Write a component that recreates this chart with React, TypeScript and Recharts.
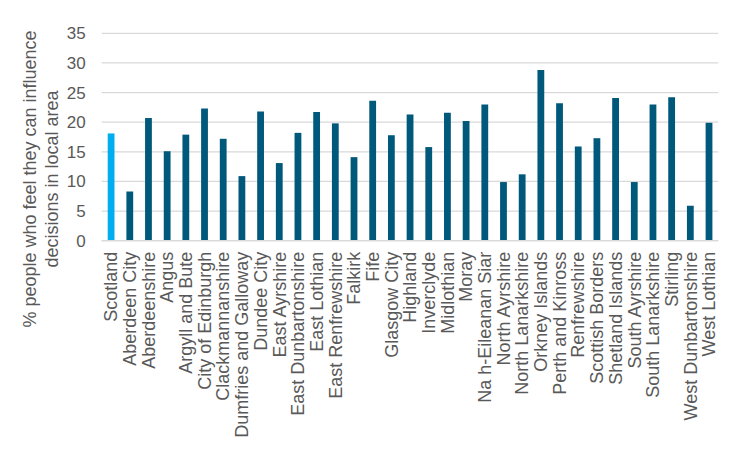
import React from "react";
import { BarChart, Bar, XAxis, YAxis, CartesianGrid, Cell } from "recharts";

const categories = [
  "Scotland", "Aberdeen City", "Aberdeenshire", "Angus", "Argyll and Bute",
  "City of Edinburgh", "Clackmannanshire", "Dumfries and Galloway", "Dundee City",
  "East Ayrshire", "East Dunbartonshire", "East Lothian", "East Renfrewshire",
  "Falkirk", "Fife", "Glasgow City", "Highland", "Inverclyde", "Midlothian", "Moray",
  "Na h-Eileanan Siar", "North Ayrshire", "North Lanarkshire", "Orkney Islands",
  "Perth and Kinross", "Renfrewshire", "Scottish Borders", "Shetland Islands",
  "South Ayrshire", "South Lanarkshire", "Stirling", "West Dunbartonshire", "West Lothian",
];

const values = [
  18.1, 8.3, 20.7, 15.1, 17.9, 22.3, 17.2, 10.9, 21.8,
  13.1, 18.2, 21.7, 19.8, 14.1, 23.6, 17.8, 21.3, 15.8, 21.6, 20.2,
  23.0, 9.9, 11.2, 28.8, 23.2, 15.9, 17.3, 24.1, 9.9, 23.0, 24.2, 5.9, 19.9,
];

const yTicks = [0, 5, 10, 15, 20, 25, 30, 35];
const titleLines = ["% people who feel they can influence", "decisions in local area"];
const highlight = "Scotland";

const data = categories.map((name, i) => ({ name, value: values[i] }));

const TEXT = "#595959";
const FONT = "'Liberation Sans', Arial, sans-serif";

const XTick = (props: any) => {
  const { x, y, payload } = props;
  return (
    <text
      x={x}
      y={y}
      transform={`rotate(-90 ${x} ${y})`}
      textAnchor="end"
      dy="0.35em"
      fill={TEXT}
      fontSize={18}
      fontFamily={FONT}
    >
      {payload.value}
    </text>
  );
};

const YTitle = () => (
  <g>
    {titleLines.map((t, i) => (
      <text
        key={i}
        x={30 + i * 22}
        y={179}
        transform={`rotate(-90 ${30 + i * 22} 179)`}
        textAnchor="middle"
        dy="0.35em"
        fill={TEXT}
        fontSize={18}
        fontFamily={FONT}
      >
        {t}
      </text>
    ))}
  </g>
);

export default function App() {
  return (
    <div style={{ position: "absolute", left: 0, top: 0, width: 740, height: 460, background: "#fff" }}>
      <BarChart
        width={740}
        height={460}
        data={data}
        margin={{ top: 33.3, right: 21.7, left: 0, bottom: 0 }}
        barSize={6.8}
      >
        <CartesianGrid vertical={false} stroke="#d9d9d9" strokeWidth={1.3} />
        <XAxis
          dataKey="name"
          interval={0}
          tickLine={false}
          axisLine={{ stroke: "#d9d9d9", strokeWidth: 1.3 }}
          height={219.3}
          tickSize={0}
          tickMargin={11}
          tick={<XTick />}
        />
        <YAxis
          width={101.7}
          domain={[0, 35]}
          ticks={yTicks}
          axisLine={false}
          tickLine={false}
          tickSize={0}
          tickMargin={16}
          tick={{ fill: TEXT, fontSize: 17, fontFamily: FONT }}
          label={{ content: () => <YTitle /> }}
        />
        <Bar dataKey="value" isAnimationActive={false}>
          {data.map((d) => (
            <Cell key={d.name} fill={d.name === highlight ? "#00AEEF" : "#00587A"} />
          ))}
        </Bar>
      </BarChart>
    </div>
  );
}
